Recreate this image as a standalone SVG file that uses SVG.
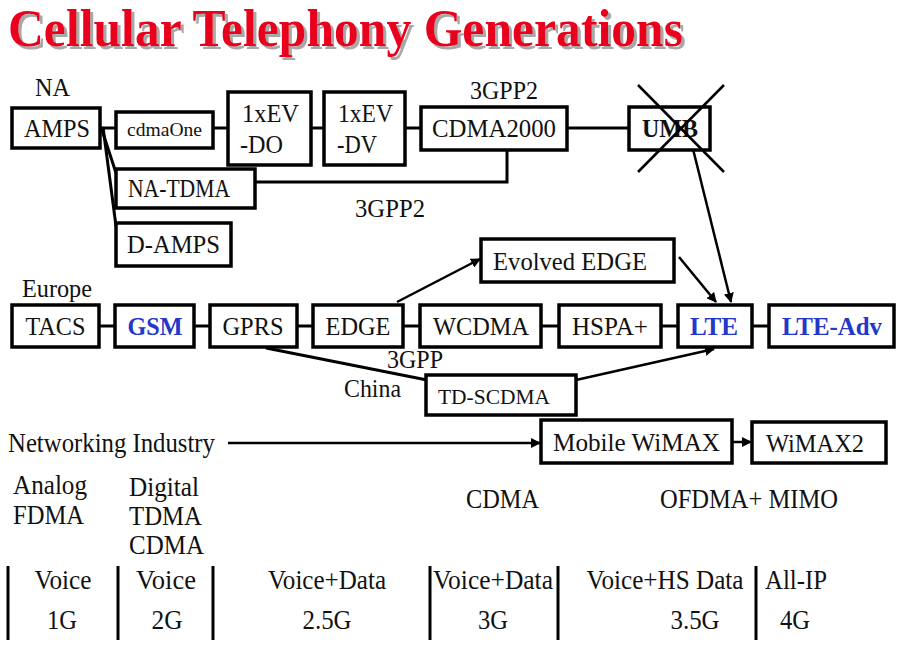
<svg xmlns="http://www.w3.org/2000/svg" width="900" height="646" viewBox="0 0 900 646">
<defs>
<marker id="ah" viewBox="0 0 10 10" refX="9" refY="5" markerWidth="4" markerHeight="4" orient="auto" markerUnits="strokeWidth">
<path d="M0,0 L10,5 L0,10 z" fill="#000"/>
</marker>
<filter id="sh" x="-5%" y="-20%" width="110%" height="150%">
<feOffset in="SourceAlpha" dx="3" dy="3" result="o"/>
<feFlood flood-color="#a8a8a8"/>
<feComposite in2="o" operator="in" result="s"/>
<feMerge><feMergeNode in="s"/><feMergeNode in="SourceGraphic"/></feMerge>
</filter>
</defs>
<style>
.box{fill:#fff;stroke:#000;stroke-width:3.5}
.t{font-family:"Liberation Serif","Times New Roman",serif;font-size:25px;fill:#111}
.c{text-anchor:middle}
.b{font-weight:bold;fill:#2437c8}
.ln{stroke:#000;stroke-width:3;fill:none}
.ar{stroke:#000;stroke-width:2.5;fill:none;marker-end:url(#ah)}
.title{font-family:"Liberation Serif","Times New Roman",serif;font-size:52px;font-weight:bold;fill:#e8001e}
.bt{font-family:"Liberation Serif","Times New Roman",serif;font-size:27px;fill:#111}
</style>
<rect width="900" height="646" fill="#fff"/>
<g id="title">
<text class="title" x="8" y="46" filter="url(#sh)" textLength="675" lengthAdjust="spacingAndGlyphs">Cellular Telephony Generations</text>
</g>
<g id="labels">
<text class="t" x="35" y="96" textLength="35" lengthAdjust="spacingAndGlyphs">NA</text>
<text class="t" x="470" y="99" textLength="68" lengthAdjust="spacingAndGlyphs">3GPP2</text>
<text class="t" x="355" y="217" textLength="70" lengthAdjust="spacingAndGlyphs">3GPP2</text>
<text class="t" x="22" y="297" textLength="70" lengthAdjust="spacingAndGlyphs">Europe</text>
<text class="t" x="387" y="368" textLength="56" lengthAdjust="spacingAndGlyphs">3GPP</text>
<text class="t" x="344" y="397" textLength="57" lengthAdjust="spacingAndGlyphs">China</text>
<text class="bt" x="8" y="452" textLength="207" lengthAdjust="spacingAndGlyphs">Networking Industry</text>
<text class="bt" x="13" y="494" textLength="74" lengthAdjust="spacingAndGlyphs">Analog</text>
<text class="bt" x="13" y="524" textLength="71" lengthAdjust="spacingAndGlyphs">FDMA</text>
<text class="bt" x="129" y="496" textLength="70" lengthAdjust="spacingAndGlyphs">Digital</text>
<text class="bt" x="129" y="525" textLength="73" lengthAdjust="spacingAndGlyphs">TDMA</text>
<text class="bt" x="129" y="554" textLength="75" lengthAdjust="spacingAndGlyphs">CDMA</text>
<text class="bt" x="466" y="508" textLength="73" lengthAdjust="spacingAndGlyphs">CDMA</text>
<text class="bt" x="660" y="508" textLength="178" lengthAdjust="spacingAndGlyphs">OFDMA+ MIMO</text>
</g>
<g id="connectors">
<line class="ln" x1="100" y1="128" x2="116" y2="128"/>
<line class="ln" x1="101" y1="127" x2="116" y2="173"/>
<line class="ln" x1="103" y1="127" x2="116" y2="226"/>
<line class="ln" x1="213" y1="128" x2="228" y2="128"/>
<line class="ln" x1="311" y1="128" x2="324" y2="128"/>
<line class="ln" x1="405" y1="128" x2="421" y2="128"/>
<line class="ln" x1="567" y1="128" x2="629" y2="128"/>
<polyline class="ln" points="507,150 507,182 255,182"/>
<line class="ln" x1="99" y1="326" x2="115" y2="326"/>
<line class="ln" x1="194" y1="326" x2="210" y2="326"/>
<line class="ln" x1="297" y1="326" x2="313" y2="326"/>
<line class="ln" x1="403" y1="326" x2="420" y2="326"/>
<line class="ln" x1="541" y1="326" x2="559" y2="326"/>
<line class="ln" x1="661" y1="326" x2="678" y2="326"/>
<line class="ln" x1="752" y1="326" x2="769" y2="326"/>
<line class="ln" x1="266" y1="348" x2="427" y2="380"/>
<line class="ar" x1="692" y1="145" x2="731" y2="302"/>
<line class="ar" x1="397" y1="302" x2="480" y2="259"/>
<line class="ar" x1="679" y1="257" x2="716" y2="302"/>
<line class="ar" x1="576" y1="380" x2="714" y2="349"/>
<line class="ar" x1="228" y1="443" x2="540" y2="443"/>
<line class="ar" x1="733" y1="442" x2="751" y2="442"/>
</g>
<g id="n-amps"><rect class="box" x="12" y="108" width="88" height="40"/><text class="t c" x="57" y="137" textLength="66" lengthAdjust="spacingAndGlyphs">AMPS</text></g>
<g id="n-cdmaone"><rect class="box" x="116" y="112" width="97" height="36"/><text class="t c" x="164.5" y="136" style="font-size:19px" textLength="75" lengthAdjust="spacingAndGlyphs">cdmaOne</text></g>
<g id="n-1xevdo"><rect class="box" x="228" y="92" width="83" height="73"/><text class="t" x="242" y="122" textLength="57" lengthAdjust="spacingAndGlyphs">1xEV</text><text class="t" x="240" y="153" textLength="43" lengthAdjust="spacingAndGlyphs">-DO</text></g>
<g id="n-1xevdv"><rect class="box" x="324" y="92" width="81" height="73"/><text class="t" x="338" y="122" textLength="55" lengthAdjust="spacingAndGlyphs">1xEV</text><text class="t" x="337" y="153" textLength="40" lengthAdjust="spacingAndGlyphs">-DV</text></g>
<g id="n-cdma2000"><rect class="box" x="421" y="107" width="146" height="43"/><text class="t c" x="494" y="137" textLength="124" lengthAdjust="spacingAndGlyphs">CDMA2000</text></g>
<g id="n-umb"><rect class="box" x="629" y="107" width="81" height="43"/><text class="t c" x="670" y="137" style="font-weight:bold" textLength="56" lengthAdjust="spacingAndGlyphs">UMB</text>
<line class="ln" x1="638" y1="85" x2="724" y2="172" style="stroke-width:2.5"/><line class="ln" x1="724" y1="85" x2="638" y2="172" style="stroke-width:2.5"/></g>
<g id="n-natdma"><rect class="box" x="116" y="169" width="139" height="39"/><text class="t" x="128" y="197" textLength="102" lengthAdjust="spacingAndGlyphs">NA-TDMA</text></g>
<g id="n-damps"><rect class="box" x="116" y="223" width="115" height="43"/><text class="t c" x="173.5" y="253" textLength="93" lengthAdjust="spacingAndGlyphs">D-AMPS</text></g>
<g id="n-evedge"><rect class="box" x="481" y="239" width="193" height="43"/><text class="t" x="493" y="270" textLength="154" lengthAdjust="spacingAndGlyphs">Evolved EDGE</text></g>
<g id="n-tacs"><rect class="box" x="12" y="305" width="87" height="42"/><text class="t c" x="55.5" y="335" textLength="60" lengthAdjust="spacingAndGlyphs">TACS</text></g>
<g id="n-gsm"><rect class="box" x="115" y="305" width="79" height="42"/><text class="t c b" x="155" y="335" textLength="55" lengthAdjust="spacingAndGlyphs">GSM</text></g>
<g id="n-gprs"><rect class="box" x="210" y="305" width="87" height="42"/><text class="t c" x="253" y="335" textLength="61" lengthAdjust="spacingAndGlyphs">GPRS</text></g>
<g id="n-edge"><rect class="box" x="313" y="305" width="90" height="42"/><text class="t c" x="358" y="335" textLength="65" lengthAdjust="spacingAndGlyphs">EDGE</text></g>
<g id="n-wcdma"><rect class="box" x="420" y="305" width="121" height="42"/><text class="t c" x="481" y="335" textLength="96" lengthAdjust="spacingAndGlyphs">WCDMA</text></g>
<g id="n-hspa"><rect class="box" x="559" y="305" width="102" height="42"/><text class="t c" x="610" y="335" textLength="76" lengthAdjust="spacingAndGlyphs">HSPA+</text></g>
<g id="n-lte"><rect class="box" x="678" y="305" width="74" height="42"/><text class="t c b" x="714" y="335" textLength="48" lengthAdjust="spacingAndGlyphs">LTE</text></g>
<g id="n-lteadv"><rect class="box" x="769" y="305" width="125" height="42"/><text class="t c b" x="832" y="335" textLength="100" lengthAdjust="spacingAndGlyphs">LTE-Adv</text></g>
<g id="n-tdscdma"><rect class="box" x="426" y="375" width="150" height="40"/><text class="t" x="438" y="404" style="font-size:22px" textLength="112" lengthAdjust="spacingAndGlyphs">TD-SCDMA</text></g>
<g id="n-mwimax"><rect class="box" x="541" y="420" width="191" height="43"/><text class="t c" x="636.5" y="451" textLength="167" lengthAdjust="spacingAndGlyphs">Mobile WiMAX</text></g>
<g id="n-wimax2"><rect class="box" x="752" y="422" width="134" height="41"/><text class="t c" x="815" y="452" textLength="98" lengthAdjust="spacingAndGlyphs">WiMAX2</text></g>
<g id="table">
<g class="ln">
<line x1="8" y1="566" x2="8" y2="640"/>
<line x1="118" y1="566" x2="118" y2="640"/>
<line x1="213" y1="566" x2="213" y2="640"/>
<line x1="430" y1="566" x2="430" y2="640"/>
<line x1="558" y1="566" x2="558" y2="640"/>
<line x1="756" y1="566" x2="756" y2="640"/>
</g>
<g class="bt" style="text-anchor:middle">
<text x="63" y="589" textLength="57" lengthAdjust="spacingAndGlyphs">Voice</text>
<text x="166" y="589" textLength="60" lengthAdjust="spacingAndGlyphs">Voice</text>
<text x="327" y="589" textLength="118" lengthAdjust="spacingAndGlyphs">Voice+Data</text>
<text x="493" y="589" textLength="120" lengthAdjust="spacingAndGlyphs">Voice+Data</text>
<text x="665" y="589" textLength="157" lengthAdjust="spacingAndGlyphs">Voice+HS Data</text>
<text x="796" y="589" textLength="62" lengthAdjust="spacingAndGlyphs">All-IP</text>
<text x="62" y="629" textLength="30" lengthAdjust="spacingAndGlyphs">1G</text>
<text x="167" y="629" textLength="31" lengthAdjust="spacingAndGlyphs">2G</text>
<text x="327" y="629" textLength="49" lengthAdjust="spacingAndGlyphs">2.5G</text>
<text x="493" y="629" textLength="30" lengthAdjust="spacingAndGlyphs">3G</text>
<text x="695" y="629" textLength="49" lengthAdjust="spacingAndGlyphs">3.5G</text>
<text x="795" y="629" textLength="30" lengthAdjust="spacingAndGlyphs">4G</text>
</g>
</g>
</svg>
